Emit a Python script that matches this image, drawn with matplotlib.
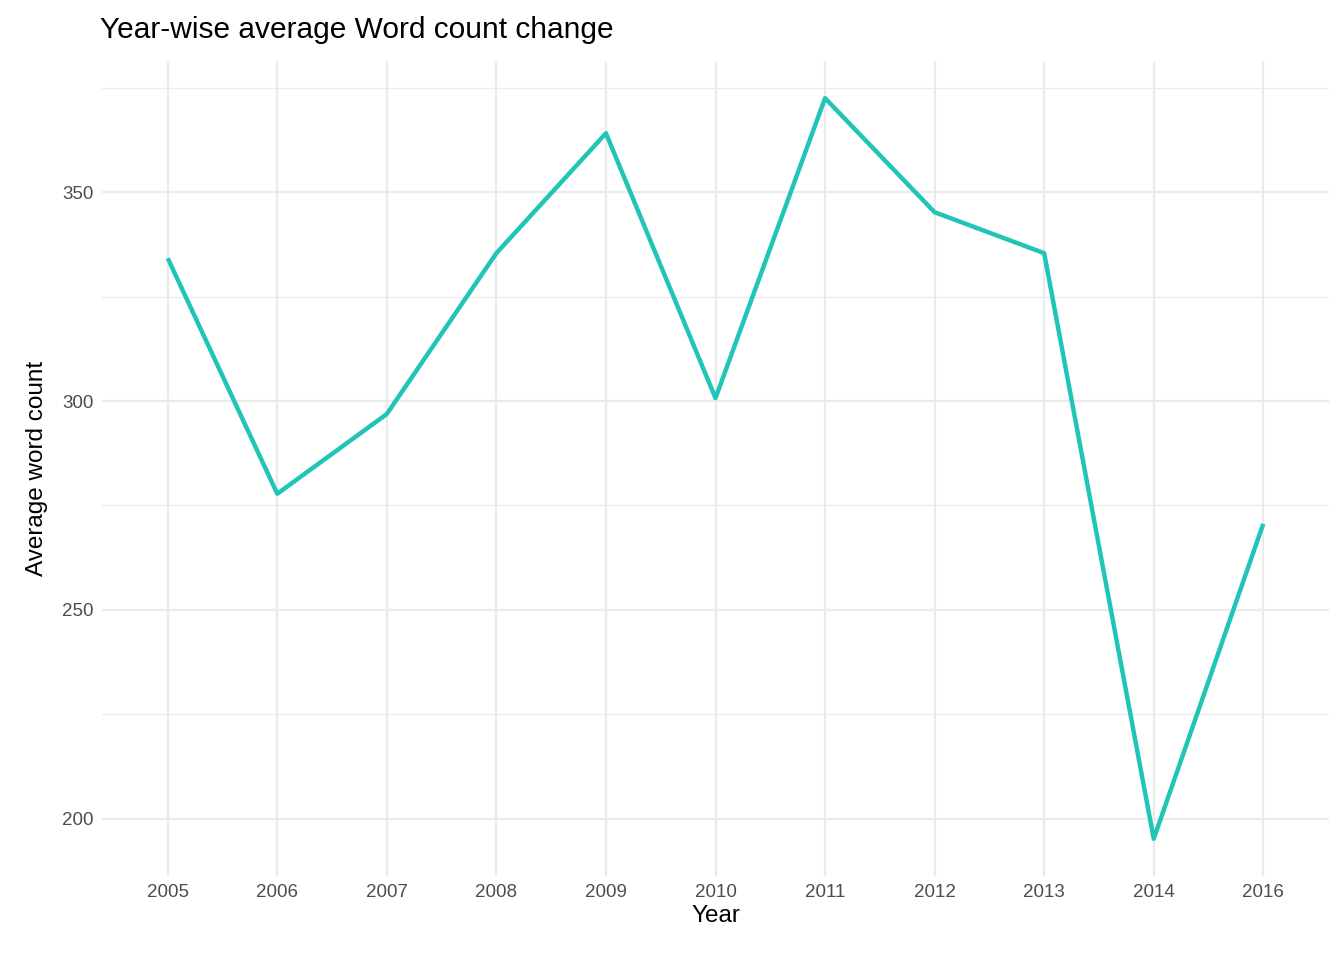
import matplotlib
matplotlib.use("Agg")
import matplotlib.pyplot as plt

plt.rcParams['font.family'] = ['Liberation Sans', 'DejaVu Sans']

years = ['2005', '2006', '2007', '2008', '2009', '2010', '2011', '2012', '2013', '2014', '2016']
avg_words = [334.2, 277.8, 296.9, 335.4, 364.1, 300.7, 372.5, 345.2, 335.4, 195.2, 270.6]

fig = plt.figure(figsize=(13.44, 9.6), dpi=100)
ax = fig.add_axes([102/1344, 84/960, (1329-102)/1344, (876-61)/960])

x = list(range(len(years)))
ax.plot(x, avg_words, color='#20C5B8', linewidth=3.2, solid_capstyle='butt', zorder=3)

ax.set_xlim(-0.6, len(years) - 0.4)
ax.set_ylim(186.3, 381.4)
ax.set_xticks(x)
ax.set_xticklabels(years)
ax.set_yticks([200, 250, 300, 350])
ax.set_yticks([225, 275, 325, 375], minor=True)

ax.grid(which='major', color='#EBEBEB', linewidth=1.6)
ax.grid(which='minor', axis='y', color='#EBEBEB', linewidth=0.8)
ax.set_axisbelow(True)
for s in ax.spines.values():
    s.set_visible(False)
ax.tick_params(which='both', length=0, labelsize=13.5, colors='#4D4D4D', pad=6)

ax.set_xlabel('Year', fontsize=17.5, color='black', labelpad=3)
ax.set_ylabel('Average word count', fontsize=17.5, color='black', labelpad=10)
fig.text(100/1344, 1 - 30/960, 'Year-wise average Word count change', fontsize=21.5,
         va='center', ha='left')

fig.savefig('out.png', dpi=100)
